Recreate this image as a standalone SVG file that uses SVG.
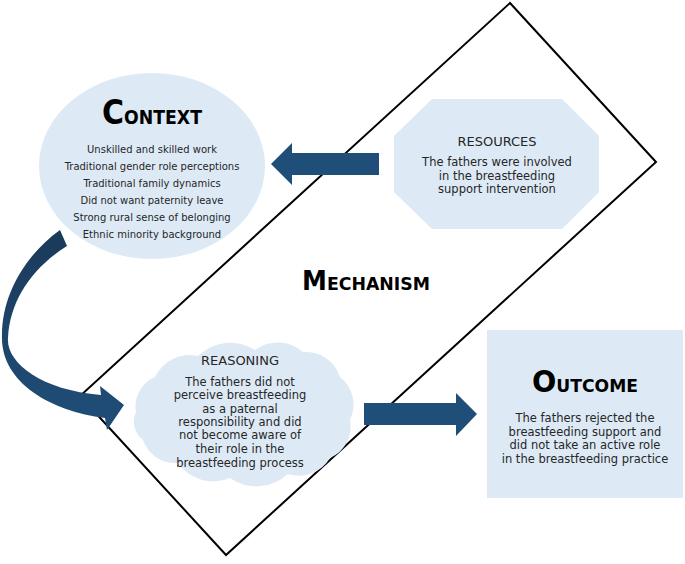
<svg xmlns="http://www.w3.org/2000/svg" width="685" height="564" viewBox="0 0 685 564">
<style>
.fill{fill:#DDEAF6}
.arrow{fill:#1F4E79}
.t{font-family:"DejaVu Sans",Verdana,sans-serif;fill:#262626;text-anchor:middle}
.ctx{font-size:10px}
.body{font-size:11.5px}
.head{font-size:13px}
.title{font-family:"DejaVu Sans",Verdana,sans-serif;font-weight:bold;fill:#000;text-anchor:middle}
</style>
<defs>
<linearGradient id="cg" x1="0" y1="0" x2="0" y2="1">
<stop offset="0" stop-color="#1B3A5A"/>
<stop offset="1" stop-color="#1F4E79"/>
</linearGradient>
</defs>
<rect width="685" height="564" fill="#fff"/>
<g id="mechanism">
<polygon points="510,3 656,162 226,555 80,396" fill="none" stroke="#000" stroke-width="2"/>
<text class="title" x="366" y="290" textLength="128" lengthAdjust="spacingAndGlyphs"><tspan font-size="26">M</tspan><tspan font-size="18">ECHANISM</tspan></text>
</g>
<g id="context">
<ellipse class="fill" cx="152" cy="166" rx="113" ry="93"/>
<text class="title" x="152" y="124" textLength="100" lengthAdjust="spacingAndGlyphs"><tspan font-size="33">C</tspan><tspan font-size="19">ONTEXT</tspan></text>
<text class="t ctx" x="152" y="153">Unskilled and skilled work</text>
<text class="t ctx" x="152" y="170">Traditional gender role perceptions</text>
<text class="t ctx" x="152" y="187">Traditional family dynamics</text>
<text class="t ctx" x="152" y="204">Did not want paternity leave</text>
<text class="t ctx" x="152" y="221">Strong rural sense of belonging</text>
<text class="t ctx" x="152" y="238">Ethnic minority background</text>
</g>
<g id="resources">
<polygon class="fill" points="432,99 562,99 599,136 599,192 562,229 432,229 394,192 394,136"/>
<text class="t head" x="497" y="146">RESOURCES</text>
<text class="t body" x="497" y="166">The fathers were involved</text>
<text class="t body" x="497" y="179.5">in the breastfeeding</text>
<text class="t body" x="497" y="193">support intervention</text>
</g>
<g id="reasoning">
<path class="fill" d="M136,412 A32,32 0 0 1 155,377 A38,38 0 0 1 198,356 A46,46 0 0 1 255,350 A38,38 0 0 1 303,352 A36,36 0 0 1 340,377 A35,35 0 0 1 350,420 A34,34 0 0 1 330,458 A36,36 0 0 1 288,474 A46,46 0 0 1 230,478 A43,43 0 0 1 178,463 A34,34 0 0 1 143,440 A23,23 0 0 1 136,412 Z"/>
<text class="t head" x="240" y="365">REASONING</text>
<text class="t body" x="240" y="386">The fathers did not</text>
<text class="t body" x="240" y="399">perceive breastfeeding</text>
<text class="t body" x="240" y="412.5">as a paternal</text>
<text class="t body" x="240" y="426">responsibility and did</text>
<text class="t body" x="240" y="439">not become aware of</text>
<text class="t body" x="240" y="453">their role in the</text>
<text class="t body" x="240" y="466.5">breastfeeding process</text>
</g>
<g id="outcome">
<rect class="fill" x="487" y="330" width="196" height="168"/>
<text class="title" x="585" y="392" textLength="106" lengthAdjust="spacingAndGlyphs"><tspan font-size="30">O</tspan><tspan font-size="18">UTCOME</tspan></text>
<text class="t body" x="585" y="422">The fathers rejected the</text>
<text class="t body" x="585" y="436">breastfeeding support and</text>
<text class="t body" x="585" y="449">did not take an active role</text>
<text class="t body" x="585" y="463">in the breastfeeding practice</text>
</g>
<g id="connectors">
<polygon class="arrow" points="379,153 292,153 292,143 271,164 292,185 292,175 379,175"/>
<polygon class="arrow" points="364,403 456,403 456,393 477,414 456,436 456,425 364,425"/>
<path fill="url(#cg)" d="M60,230 L67,246 C32,268 10,300 8,338 C6,362 40,390 101,395 L100,386 L124,405 L107,430 L105,418 C50,411 0,382 2,335 C2,295 25,255 60,230 Z"/>
</g>
</svg>
